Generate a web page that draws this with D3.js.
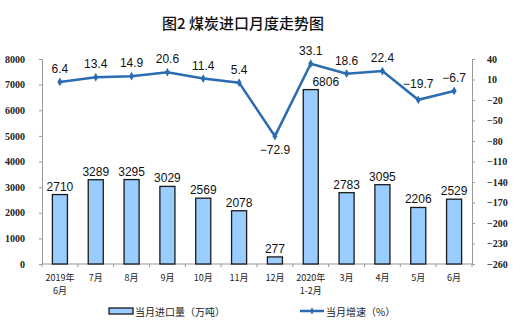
<!DOCTYPE html>
<html><head><meta charset="utf-8">
<script src="https://cdn.jsdelivr.net/npm/d3@7"></script>
<style>body{margin:0;background:#fff}svg{display:block}</style>
</head><body>
<svg id="c" width="520" height="331"></svg>
<script>
const categories = [["2019年","6月"],["7月"],["8月"],["9月"],["10月"],["11月"],["12月"],["2020年","1-2月"],["3月"],["4月"],["5月"],["6月"]];
const imports = [2710,3289,3295,3029,2569,2078,277,6806,2783,3095,2206,2529];
const growth = [6.4,13.4,14.9,20.6,11.4,5.4,-72.9,33.1,18.6,22.4,-19.7,-6.7];
const leftTicks = [0,1000,2000,3000,4000,5000,6000,7000,8000];
const rightTicks = [40,10,-20,-50,-80,-110,-140,-170,-200,-230,-260];
const title = "图2  煤炭进口月度走势图";
const legendLabels = ["当月进口量（万吨）","当月增速（%）"];

const svg = d3.select("#c");
const L = 42, R = 472, T = 59, B = 264;
const x = d3.scaleBand().domain(d3.range(categories.length)).range([L, R]).paddingInner(0.58).paddingOuter(0.29);
const yL = d3.scaleLinear().domain([0, 8000]).range([B, T]);
const yR = d3.scaleLinear().domain([-260, 40]).range([B, T]);
const cx = i => x(i) + x.bandwidth()/2;
const lineColor = "#2b6cb3";
const serif = "'Liberation Serif','DejaVu Serif',serif";
const sans = "'Liberation Sans',Arial,sans-serif";

svg.append("text").attr("x", 243).attr("y", 29).attr("text-anchor","middle")
  .attr("font-family","'Noto Sans CJK SC',sans-serif").attr("font-size",15).attr("font-weight","500").attr("fill","#111").text(title);

// axes
const gL = svg.append("g").attr("transform",`translate(${L},0)`)
  .call(d3.axisLeft(yL).tickValues(leftTicks).tickSize(3).tickPadding(14).tickFormat(d3.format("d")));
const gR = svg.append("g").attr("transform",`translate(${R},0)`)
  .call(d3.axisRight(yR).tickValues(rightTicks).tickSize(3).tickPadding(12).tickFormat(d3.format("d")));
[gL,gR].forEach(g=>{
  g.select(".domain").attr("stroke","#999");
  g.selectAll(".tick line").attr("stroke","#999");
  g.selectAll("text").attr("font-family",serif).attr("font-size",10).attr("font-weight","bold").attr("fill","#222");
});
// x axis
const gX = svg.append("g").attr("transform",`translate(0,${B})`);
gX.append("line").attr("x1",L).attr("x2",R).attr("stroke","#999");
d3.range(categories.length+1).forEach(i=>{
  const xx = L + i*(R-L)/categories.length;
  gX.append("line").attr("x1",xx).attr("x2",xx).attr("y1",0).attr("y2",3).attr("stroke","#999");
});
categories.forEach((c,i)=>{
  c.forEach((t,j)=>{
    gX.append("text").attr("x",cx(i)).attr("y",17+j*12.5).attr("text-anchor","middle")
      .attr("font-family","'Noto Sans CJK SC',"+serif).attr("font-size",9).attr("fill","#222").text(t);
  });
});

// bars
svg.selectAll("rect.bar").data(imports).join("rect").attr("class","bar")
  .attr("x",(d,i)=>x(i)).attr("width",x.bandwidth())
  .attr("y",d=>yL(d)).attr("height",d=>B-yL(d))
  .attr("fill","#99ccff").attr("stroke","#1a1a1a").attr("stroke-width",1.3);
svg.selectAll("text.bl").data(imports).join("text").attr("class","bl")
  .attr("x",(d,i)=>cx(i) + (i===7 ? 15 : 0)).attr("y",d=>yL(d)-4).attr("text-anchor","middle")
  .attr("font-family",sans).attr("font-size",12).attr("fill","#111").text(d=>d);

// line
const line = d3.line().x((d,i)=>cx(i)).y(d=>yR(d));
svg.append("path").datum(growth).attr("d",line).attr("fill","none").attr("stroke",lineColor).attr("stroke-width",2.5);
svg.selectAll("path.mk").data(growth).join("path").attr("class","mk")
  .attr("d",d3.symbol(d3.symbolDiamond,22)).attr("transform",(d,i)=>`translate(${cx(i)},${yR(d)})`)
  .attr("fill",lineColor);
svg.selectAll("text.ll").data(growth).join("text").attr("class","ll")
  .attr("x",(d,i)=>cx(i)).attr("y",(d,i)=> i===6 ? yR(d)+18 : (i===10 ? yR(d)-12 : yR(d)-9)).attr("text-anchor","middle")
  .attr("font-family",sans).attr("font-size",12).attr("fill","#111").text(d=>d3.format(".1f")(d));

// legend
const lg = svg.append("g");
lg.append("rect").attr("x",109).attr("y",308).attr("width",24).attr("height",6).attr("fill","#99ccff").attr("stroke","#1a1a1a").attr("stroke-width",1.3);
lg.append("text").attr("x",135).attr("y",316).attr("font-family","'Noto Sans CJK SC',sans-serif").attr("font-size",10).attr("fill","#222").text(legendLabels[0]);
lg.append("line").attr("x1",300).attr("x2",324).attr("y1",311).attr("y2",311).attr("stroke",lineColor).attr("stroke-width",2.5);
lg.append("path").attr("d",d3.symbol(d3.symbolDiamond,14)).attr("transform","translate(312,311)").attr("fill",lineColor);
lg.append("text").attr("x",326).attr("y",316).attr("font-family","'Noto Sans CJK SC',sans-serif").attr("font-size",10).attr("fill","#222").text(legendLabels[1]);
</script>
</body></html>
